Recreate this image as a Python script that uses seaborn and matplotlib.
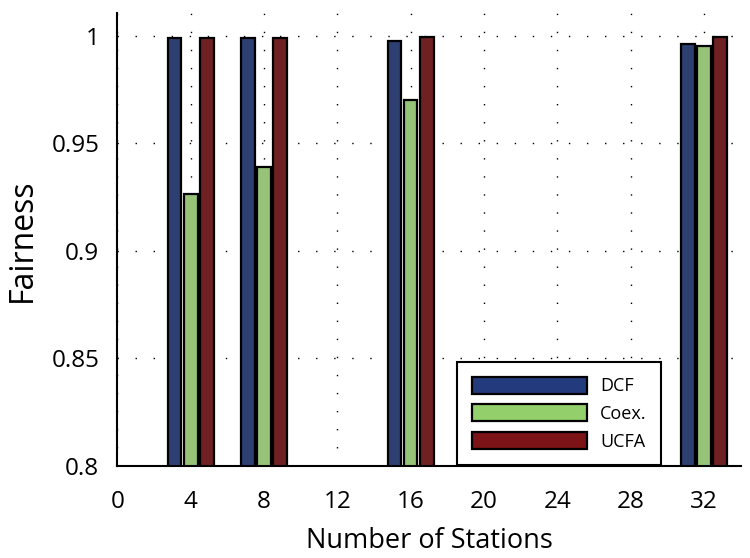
import matplotlib
matplotlib.use("Agg")
import matplotlib.pyplot as plt
import seaborn as sns
import pandas as pd
from matplotlib.patches import Patch

# Jain's fairness index per scheme, by number of stations
stations = [4, 8, 16, 32]
dcf = [0.9992, 0.9992, 0.9975, 0.9961]
coex = [0.9265, 0.9389, 0.9704, 0.9954]
ucfa = [0.9992, 0.9992, 0.9993, 0.9993]
schemes = ["DCF", "Coex.", "UCFA"]
colors = ["#233a7c", "#93d06b", "#7b1317"]
x_ticks = [0, 4, 8, 12, 16, 20, 24, 28, 32]
y_ticks = [0.8, 0.85, 0.9, 0.95, 1.0]
y_ticklabels = ["0.8", "0.85", "0.9", "0.95", "1"]

df = pd.DataFrame({
    "stations": stations * 3,
    "fairness": dcf + coex + ucfa,
    "scheme": [s for s in schemes for _ in stations],
})

sns.set_style("white")
plt.rcParams["font.family"] = ["Open Sans", "DejaVu Sans"]
plt.rcParams["text.color"] = "black"
plt.rcParams["axes.labelcolor"] = "black"

fig = plt.figure(figsize=(7.5, 5.58), dpi=100)
ax = fig.add_axes([0.1565, 0.1649, 0.831, 0.8111])

sns.barplot(data=df, x="stations", y="fairness", hue="scheme",
            hue_order=schemes, palette=colors, native_scale=True,
            width=0.663, gap=0.16, errorbar=None,
            edgecolor="black", linewidth=1.6, ax=ax, legend=False)

ax.set_xlim(0, 34)
ax.set_ylim(0.8, 1.0105)
ax.set_xticks(x_ticks)
ax.set_xticklabels([str(t) for t in x_ticks])
ax.set_yticks(y_ticks)
ax.set_yticklabels(y_ticklabels)

ax.grid(True, color="black", linestyle=(0, (1, 12)), linewidth=1.0)
ax.set_axisbelow(True)

for side in ["top", "right"]:
    ax.spines[side].set_visible(False)
for side in ["left", "bottom"]:
    ax.spines[side].set_color("black")
    ax.spines[side].set_linewidth(1.5)

ax.tick_params(axis="both", direction="in", length=5, width=1.0,
               labelsize=17.5, colors="black")
ax.tick_params(axis="x", pad=17)
ax.tick_params(axis="y", pad=13)

ax.set_xlabel("Number of Stations", fontsize=19.5, labelpad=10, color="black")
ax.set_ylabel("Fairness", fontsize=23, labelpad=9, color="black")

handles = [Patch(facecolor=c, edgecolor="black", linewidth=1.6) for c in colors]
leg = ax.legend(handles, schemes, loc="lower right",
                bbox_to_anchor=(661 / 750, 93 / 558),
                bbox_transform=fig.transFigure, borderaxespad=0,
                fontsize=13, handlelength=6.4, handleheight=1.05,
                handletextpad=0.7, labelspacing=0.5,
                borderpad=0.8, fancybox=False, framealpha=1.0)
leg.get_frame().set_edgecolor("black")
leg.get_frame().set_linewidth(1.5)

fig.savefig("out.png", dpi=100)
